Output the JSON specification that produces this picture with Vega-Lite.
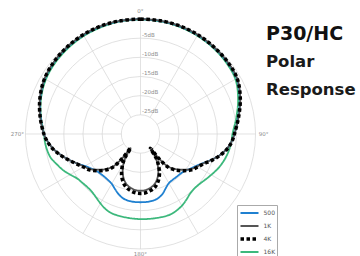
{
  "$schema": "https://vega.github.io/schema/vega-lite/v6.json",
  "width": 360,
  "height": 256,
  "autosize": {"type": "none"},
  "padding": 0,
  "background": "white",
  "config": {
    "view": {"stroke": null},
    "font": "DejaVu Sans",
    "legend": {
      "orient": "none",
      "legendX": 237,
      "legendY": 205,
      "strokeColor": "#aaaaaa",
      "fillColor": "white",
      "padding": 1.5,
      "symbolType": "stroke",
      "symbolSize": 324,
      "labelFontSize": 6,
      "labelColor": "#555555",
      "labelFont": "DejaVu Sans",
      "clipHeight": 13,
      "rowPadding": 0,
      "labelOffset": 3
    }
  },
  "title": {
    "text": "P30/HC",
    "subtitle": ["Polar", "Response"],
    "anchor": "start",
    "frame": "group",
    "orient": "top",
    "offset": -98,
    "dx": 266,
    "font": "DejaVu Sans",
    "fontSize": 19,
    "fontWeight": "bold",
    "color": "#111111",
    "subtitleFont": "DejaVu Sans",
    "subtitleFontSize": 16.5,
    "subtitleFontWeight": "bold",
    "subtitleColor": "#1a1a1a",
    "subtitleLineHeight": 28,
    "subtitlePadding": 10
  },
  "datasets": {
    "rings": [
      {"level": 0, "label": ""},
      {"level": -5, "label": "-5dB"},
      {"level": -10, "label": "-10dB"},
      {"level": -15, "label": "-15dB"},
      {"level": -20, "label": "-20dB"},
      {"level": -25, "label": "-25dB"}
    ],
    "spokes": [
      {"angle": 0}, {"angle": 30}, {"angle": 60}, {"angle": 90}, {"angle": 120}, {"angle": 150},
      {"angle": 180}, {"angle": 210}, {"angle": 240}, {"angle": 270}, {"angle": 300}, {"angle": 330}
    ],
    "angles": [
      {"angle": 0, "label": "0°"},
      {"angle": 90, "label": "90°"},
      {"angle": 180, "label": "180°"},
      {"angle": 270, "label": "270°"}
    ],
    "curves": [
      {"f": "16K", "a": 0, "db": -0.1}, {"f": "16K", "a": 10, "db": -0.15}, {"f": "16K", "a": 20, "db": -0.25}, {"f": "16K", "a": 30, "db": -0.4},
      {"f": "16K", "a": 40, "db": -0.6}, {"f": "16K", "a": 50, "db": -0.9}, {"f": "16K", "a": 60, "db": -1.4}, {"f": "16K", "a": 70, "db": -2.9},
      {"f": "16K", "a": 80, "db": -4.6}, {"f": "16K", "a": 90, "db": -6.0}, {"f": "16K", "a": 95, "db": -6.2}, {"f": "16K", "a": 100, "db": -6.5},
      {"f": "16K", "a": 105, "db": -6.9}, {"f": "16K", "a": 110, "db": -7.4}, {"f": "16K", "a": 115, "db": -8.0}, {"f": "16K", "a": 120, "db": -8.7},
      {"f": "16K", "a": 125, "db": -9.3}, {"f": "16K", "a": 130, "db": -9.8}, {"f": "16K", "a": 135, "db": -10.0}, {"f": "16K", "a": 140, "db": -9.8},
      {"f": "16K", "a": 145, "db": -9.1}, {"f": "16K", "a": 150, "db": -8.4}, {"f": "16K", "a": 155, "db": -7.9}, {"f": "16K", "a": 160, "db": -7.6},
      {"f": "16K", "a": 170, "db": -7.7}, {"f": "16K", "a": 180, "db": -7.8}, {"f": "16K", "a": 190, "db": -7.9}, {"f": "16K", "a": 200, "db": -8.0},
      {"f": "16K", "a": 205, "db": -8.4}, {"f": "16K", "a": 210, "db": -9.1}, {"f": "16K", "a": 215, "db": -9.8}, {"f": "16K", "a": 220, "db": -10.3},
      {"f": "16K", "a": 225, "db": -10.4}, {"f": "16K", "a": 230, "db": -10.2}, {"f": "16K", "a": 235, "db": -9.8}, {"f": "16K", "a": 240, "db": -8.8},
      {"f": "16K", "a": 245, "db": -7.7}, {"f": "16K", "a": 250, "db": -6.8}, {"f": "16K", "a": 255, "db": -5.8}, {"f": "16K", "a": 260, "db": -5.3},
      {"f": "16K", "a": 265, "db": -5.0}, {"f": "16K", "a": 270, "db": -4.8}, {"f": "16K", "a": 280, "db": -3.6}, {"f": "16K", "a": 290, "db": -2.4},
      {"f": "16K", "a": 300, "db": -1.5}, {"f": "16K", "a": 310, "db": -1.0}, {"f": "16K", "a": 320, "db": -0.7}, {"f": "16K", "a": 330, "db": -0.45},
      {"f": "16K", "a": 340, "db": -0.3}, {"f": "16K", "a": 350, "db": -0.15}, {"f": "16K", "a": 360, "db": -0.1},

      {"f": "500", "a": 0, "db": 0}, {"f": "500", "a": 10, "db": -0.05}, {"f": "500", "a": 20, "db": -0.1}, {"f": "500", "a": 30, "db": -0.2},
      {"f": "500", "a": 40, "db": -0.4}, {"f": "500", "a": 50, "db": -0.6}, {"f": "500", "a": 60, "db": -1.0}, {"f": "500", "a": 70, "db": -2.4},
      {"f": "500", "a": 80, "db": -4.1}, {"f": "500", "a": 90, "db": -5.5}, {"f": "500", "a": 95, "db": -6.2}, {"f": "500", "a": 100, "db": -7.2},
      {"f": "500", "a": 105, "db": -8.6}, {"f": "500", "a": 110, "db": -10.3}, {"f": "500", "a": 115, "db": -12.0}, {"f": "500", "a": 120, "db": -13.3},
      {"f": "500", "a": 125, "db": -14.2}, {"f": "500", "a": 130, "db": -15.0}, {"f": "500", "a": 135, "db": -15.3}, {"f": "500", "a": 140, "db": -15.4},
      {"f": "500", "a": 145, "db": -15.4}, {"f": "500", "a": 150, "db": -15.2}, {"f": "500", "a": 155, "db": -14.4}, {"f": "500", "a": 160, "db": -13.3},
      {"f": "500", "a": 165, "db": -12.6}, {"f": "500", "a": 170, "db": -12.3}, {"f": "500", "a": 175, "db": -12.2}, {"f": "500", "a": 180, "db": -12.2},
      {"f": "500", "a": 185, "db": -12.2}, {"f": "500", "a": 190, "db": -12.3}, {"f": "500", "a": 195, "db": -12.6}, {"f": "500", "a": 200, "db": -13.3},
      {"f": "500", "a": 205, "db": -14.2}, {"f": "500", "a": 210, "db": -15.0}, {"f": "500", "a": 215, "db": -15.3}, {"f": "500", "a": 220, "db": -15.4},
      {"f": "500", "a": 225, "db": -15.3}, {"f": "500", "a": 230, "db": -15.0}, {"f": "500", "a": 235, "db": -14.3}, {"f": "500", "a": 240, "db": -13.3},
      {"f": "500", "a": 245, "db": -11.8}, {"f": "500", "a": 250, "db": -10.2}, {"f": "500", "a": 255, "db": -8.6}, {"f": "500", "a": 260, "db": -7.0},
      {"f": "500", "a": 265, "db": -5.8}, {"f": "500", "a": 270, "db": -4.8}, {"f": "500", "a": 280, "db": -3.5}, {"f": "500", "a": 290, "db": -2.2},
      {"f": "500", "a": 300, "db": -1.2}, {"f": "500", "a": 310, "db": -0.7}, {"f": "500", "a": 320, "db": -0.4}, {"f": "500", "a": 330, "db": -0.2},
      {"f": "500", "a": 340, "db": -0.1}, {"f": "500", "a": 350, "db": -0.05}, {"f": "500", "a": 360, "db": 0},

      {"f": "1K", "a": 0, "db": 0}, {"f": "1K", "a": 10, "db": 0}, {"f": "1K", "a": 20, "db": 0}, {"f": "1K", "a": 30, "db": -0.1},
      {"f": "1K", "a": 40, "db": -0.3}, {"f": "1K", "a": 50, "db": -0.5}, {"f": "1K", "a": 60, "db": -0.9}, {"f": "1K", "a": 70, "db": -2.3},
      {"f": "1K", "a": 80, "db": -4.0}, {"f": "1K", "a": 90, "db": -5.5}, {"f": "1K", "a": 95, "db": -6.2}, {"f": "1K", "a": 100, "db": -7.2},
      {"f": "1K", "a": 105, "db": -8.6}, {"f": "1K", "a": 110, "db": -10.3}, {"f": "1K", "a": 115, "db": -11.9}, {"f": "1K", "a": 120, "db": -13.0},
      {"f": "1K", "a": 125, "db": -14.0}, {"f": "1K", "a": 130, "db": -15.5}, {"f": "1K", "a": 135, "db": -17.0}, {"f": "1K", "a": 140, "db": -19.0},
      {"f": "1K", "a": 143, "db": -22.0}, {"f": "1K", "a": 145, "db": -25.5}, {"f": "1K", "a": 147, "db": -23.0}, {"f": "1K", "a": 150, "db": -21.2},
      {"f": "1K", "a": 155, "db": -19.0}, {"f": "1K", "a": 160, "db": -17.4}, {"f": "1K", "a": 165, "db": -16.3}, {"f": "1K", "a": 170, "db": -15.7},
      {"f": "1K", "a": 175, "db": -15.3}, {"f": "1K", "a": 180, "db": -15.2}, {"f": "1K", "a": 185, "db": -15.3}, {"f": "1K", "a": 190, "db": -15.7},
      {"f": "1K", "a": 195, "db": -16.3}, {"f": "1K", "a": 200, "db": -17.4}, {"f": "1K", "a": 205, "db": -19.0}, {"f": "1K", "a": 210, "db": -21.2},
      {"f": "1K", "a": 213, "db": -23.0}, {"f": "1K", "a": 215, "db": -25.5}, {"f": "1K", "a": 217, "db": -22.0}, {"f": "1K", "a": 220, "db": -19.0},
      {"f": "1K", "a": 225, "db": -17.0}, {"f": "1K", "a": 230, "db": -15.5}, {"f": "1K", "a": 235, "db": -14.0}, {"f": "1K", "a": 240, "db": -13.0},
      {"f": "1K", "a": 245, "db": -11.8}, {"f": "1K", "a": 250, "db": -10.2}, {"f": "1K", "a": 255, "db": -8.6}, {"f": "1K", "a": 260, "db": -7.0},
      {"f": "1K", "a": 265, "db": -5.8}, {"f": "1K", "a": 270, "db": -4.8}, {"f": "1K", "a": 280, "db": -3.4}, {"f": "1K", "a": 290, "db": -2.1},
      {"f": "1K", "a": 300, "db": -1.1}, {"f": "1K", "a": 310, "db": -0.6}, {"f": "1K", "a": 320, "db": -0.3}, {"f": "1K", "a": 330, "db": -0.1},
      {"f": "1K", "a": 340, "db": 0}, {"f": "1K", "a": 350, "db": 0}, {"f": "1K", "a": 360, "db": 0},

      {"f": "4K", "a": 0, "db": 0}, {"f": "4K", "a": 10, "db": 0}, {"f": "4K", "a": 20, "db": 0}, {"f": "4K", "a": 30, "db": -0.1},
      {"f": "4K", "a": 40, "db": -0.3}, {"f": "4K", "a": 50, "db": -0.5}, {"f": "4K", "a": 60, "db": -0.9}, {"f": "4K", "a": 70, "db": -2.3},
      {"f": "4K", "a": 80, "db": -4.0}, {"f": "4K", "a": 90, "db": -5.5}, {"f": "4K", "a": 95, "db": -6.1}, {"f": "4K", "a": 100, "db": -7.1},
      {"f": "4K", "a": 105, "db": -8.5}, {"f": "4K", "a": 110, "db": -10.1}, {"f": "4K", "a": 115, "db": -11.7}, {"f": "4K", "a": 120, "db": -12.8},
      {"f": "4K", "a": 125, "db": -13.7}, {"f": "4K", "a": 130, "db": -15.1}, {"f": "4K", "a": 135, "db": -16.6}, {"f": "4K", "a": 140, "db": -18.6},
      {"f": "4K", "a": 143, "db": -21.8}, {"f": "4K", "a": 145, "db": -25.5}, {"f": "4K", "a": 147, "db": -22.5}, {"f": "4K", "a": 150, "db": -20.6},
      {"f": "4K", "a": 155, "db": -18.3}, {"f": "4K", "a": 160, "db": -16.7}, {"f": "4K", "a": 165, "db": -15.6}, {"f": "4K", "a": 170, "db": -15.0},
      {"f": "4K", "a": 175, "db": -14.6}, {"f": "4K", "a": 180, "db": -14.5}, {"f": "4K", "a": 185, "db": -14.6}, {"f": "4K", "a": 190, "db": -15.0},
      {"f": "4K", "a": 195, "db": -15.6}, {"f": "4K", "a": 200, "db": -16.7}, {"f": "4K", "a": 205, "db": -18.3}, {"f": "4K", "a": 210, "db": -20.6},
      {"f": "4K", "a": 213, "db": -22.5}, {"f": "4K", "a": 215, "db": -25.5}, {"f": "4K", "a": 217, "db": -21.8}, {"f": "4K", "a": 220, "db": -18.6},
      {"f": "4K", "a": 225, "db": -16.6}, {"f": "4K", "a": 230, "db": -15.1}, {"f": "4K", "a": 235, "db": -13.7}, {"f": "4K", "a": 240, "db": -12.8},
      {"f": "4K", "a": 245, "db": -11.6}, {"f": "4K", "a": 250, "db": -10.1}, {"f": "4K", "a": 255, "db": -8.5}, {"f": "4K", "a": 260, "db": -6.9},
      {"f": "4K", "a": 265, "db": -5.7}, {"f": "4K", "a": 270, "db": -4.8}, {"f": "4K", "a": 280, "db": -3.4}, {"f": "4K", "a": 290, "db": -2.1},
      {"f": "4K", "a": 300, "db": -1.1}, {"f": "4K", "a": 310, "db": -0.6}, {"f": "4K", "a": 320, "db": -0.3}, {"f": "4K", "a": 330, "db": -0.1},
      {"f": "4K", "a": 340, "db": 0}, {"f": "4K", "a": 350, "db": 0}, {"f": "4K", "a": 360, "db": 0}
    ]
  },
  "layer": [
    {
      "data": {"name": "rings"},
      "transform": [{"calculate": "(datum.level + 30) / 30", "as": "r"}],
      "mark": {"type": "arc", "filled": false, "stroke": "#d4d4d4", "strokeWidth": 0.7, "theta": 0, "theta2": 6.2832},
      "encoding": {
        "x": {"datum": 0, "type": "quantitative", "scale": {"domain": [-1.2217, 1.9087], "nice": false, "zero": false}, "axis": null},
        "y": {"datum": 0, "type": "quantitative", "scale": {"domain": [-1.0609, 1.1652], "nice": false, "zero": false}, "axis": null},
        "radius": {"field": "r", "type": "quantitative", "stack": null, "scale": {"type": "linear", "domain": [0, 1], "range": [0, 115], "zero": true}, "legend": null}
      }
    },
    {
      "data": {"name": "spokes"},
      "transform": [
        {"calculate": "sin(datum.angle * PI / 180) / 6", "as": "x1"},
        {"calculate": "cos(datum.angle * PI / 180) / 6", "as": "y1"},
        {"calculate": "sin(datum.angle * PI / 180)", "as": "x2"},
        {"calculate": "cos(datum.angle * PI / 180)", "as": "y2"}
      ],
      "mark": {"type": "rule", "stroke": "#d4d4d4", "strokeWidth": 0.7},
      "encoding": {
        "x": {"field": "x1", "type": "quantitative", "scale": {"domain": [-1.2217, 1.9087], "nice": false, "zero": false}, "axis": null},
        "y": {"field": "y1", "type": "quantitative", "scale": {"domain": [-1.0609, 1.1652], "nice": false, "zero": false}, "axis": null},
        "x2": {"field": "x2"},
        "y2": {"field": "y2"}
      }
    },
    {
      "data": {"name": "rings"},
      "transform": [{"calculate": "(datum.level + 30) / 30", "as": "r"}],
      "mark": {"type": "text", "align": "left", "baseline": "bottom", "dx": 1.5, "dy": -0.5, "fontSize": 5.5, "fill": "#8c8c8c", "font": "DejaVu Sans"},
      "encoding": {
        "x": {"datum": 0, "type": "quantitative", "scale": {"domain": [-1.2217, 1.9087], "nice": false, "zero": false}, "axis": null},
        "y": {"field": "r", "type": "quantitative", "scale": {"domain": [-1.0609, 1.1652], "nice": false, "zero": false}, "axis": null},
        "text": {"field": "label"}
      }
    },
    {
      "data": {"name": "angles"},
      "transform": [
        {"calculate": "(datum.angle == 180 ? 1.045 : 1.07) * sin(datum.angle * PI / 180)", "as": "lx"},
        {"calculate": "(datum.angle == 180 ? 1.045 : 1.07) * cos(datum.angle * PI / 180)", "as": "ly"}
      ],
      "mark": {"type": "text", "align": "center", "baseline": "middle", "fontSize": 5.5, "fill": "#8c8c8c", "font": "DejaVu Sans"},
      "encoding": {
        "x": {"field": "lx", "type": "quantitative", "scale": {"domain": [-1.2217, 1.9087], "nice": false, "zero": false}, "axis": null},
        "y": {"field": "ly", "type": "quantitative", "scale": {"domain": [-1.0609, 1.1652], "nice": false, "zero": false}, "axis": null},
        "text": {"field": "label"}
      }
    },
    {
      "data": {"name": "curves"},
      "transform": [
        {"calculate": "(datum.db + 30) / 30 * sin(datum.a * PI / 180)", "as": "px"},
        {"calculate": "(datum.db + 30) / 30 * cos(datum.a * PI / 180)", "as": "py"}
      ],
      "mark": {"type": "line", "interpolate": "catmull-rom", "strokeCap": "butt", "strokeJoin": "round"},
      "encoding": {
        "x": {"field": "px", "type": "quantitative", "scale": {"domain": [-1.2217, 1.9087], "nice": false, "zero": false}, "axis": null},
        "y": {"field": "py", "type": "quantitative", "scale": {"domain": [-1.0609, 1.1652], "nice": false, "zero": false}, "axis": null},
        "order": {"field": "a", "type": "quantitative"},
        "color": {"field": "f", "type": "nominal", "scale": {"domain": ["500", "1K", "4K", "16K"], "range": ["#1f80d0", "#555555", "#000000", "#3cb87c"]}, "legend": {"title": null}},
        "strokeDash": {"field": "f", "type": "nominal", "scale": {"domain": ["500", "1K", "4K", "16K"], "range": [[1, 0], [1, 0], [3.5, 2.5], [1, 0]]}, "legend": {"title": null}},
        "strokeWidth": {"field": "f", "type": "nominal", "scale": {"type": "ordinal", "domain": ["500", "1K", "4K", "16K"], "range": [1.8, 1.8, 3.5, 1.8]}, "legend": {"title": null}}
      }
    }
  ]
}
